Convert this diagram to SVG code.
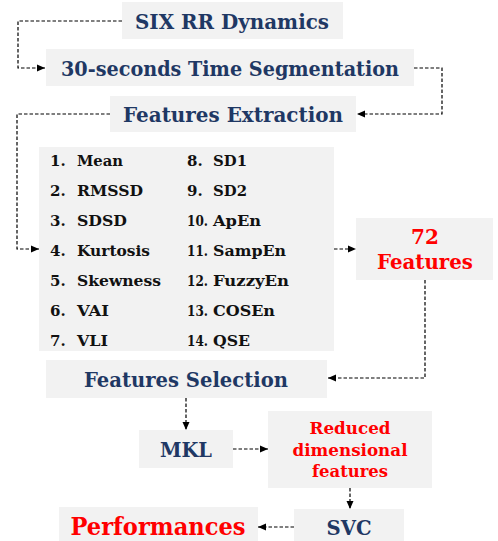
<svg xmlns="http://www.w3.org/2000/svg" width="498" height="541" viewBox="0 0 498 541">
<defs>
<marker id="ah" viewBox="0 0 8 8" refX="8" refY="4" markerWidth="8" markerHeight="8" markerUnits="userSpaceOnUse" orient="auto">
<path d="M0,0.5 L8,4 L0,7.5 Z" fill="#000"/>
</marker>
<style>
.box{fill:#f2f2f2;}
.t{font-family:"DejaVu Serif","Liberation Serif",serif;font-weight:bold;text-anchor:middle;}
.navy{fill:#1f3864;}
.red{fill:#ff0000;}
.li{font-family:"DejaVu Serif","Liberation Serif",serif;font-weight:bold;font-size:15px;fill:#111;}
.c{fill:none;stroke:#000;stroke-width:1.2;stroke-dasharray:3.5,2;}
.a{marker-end:url(#ah);}
</style>
</defs>
<g id="connectors">
<path class="c a" d="M122,21 H18 V68 H45"/>
<path class="c a" d="M414,68 H442 V114 H357"/>
<path class="c a" d="M110,114 H17 V249 H39"/>
<path class="c a" d="M334,249 H356"/>
<path class="c a" d="M425,280 V378 H328"/>
<path class="c a" d="M186,398 V430"/>
<path class="c a" d="M233,449 H268"/>
<path class="c a" d="M350,488 V509"/>
<path class="c a" d="M294,527 H258"/>
</g>
<g id="six">
<rect class="box" x="122" y="2" width="221" height="37"/>
<text class="t navy" x="232" y="29" font-size="20" textLength="194" lengthAdjust="spacingAndGlyphs">SIX RR Dynamics</text>
</g>
<g id="segmentation">
<rect class="box" x="46" y="49" width="368" height="37"/>
<text class="t navy" x="230" y="76" font-size="20" textLength="338" lengthAdjust="spacingAndGlyphs">30-seconds Time Segmentation</text>
</g>
<g id="extraction">
<rect class="box" x="110" y="96" width="246" height="36"/>
<text class="t navy" x="233" y="122" font-size="20" textLength="220" lengthAdjust="spacingAndGlyphs">Features Extraction</text>
</g>
<g id="list">
<rect class="box" x="39" y="147" width="295" height="204"/>
<text class="li" x="50" y="166">1.</text><text class="li" x="77" y="166" textLength="46" lengthAdjust="spacingAndGlyphs">Mean</text>
<text class="li" x="50" y="196">2.</text><text class="li" x="77" y="196" textLength="66" lengthAdjust="spacingAndGlyphs">RMSSD</text>
<text class="li" x="50" y="226">3.</text><text class="li" x="77" y="226" textLength="50" lengthAdjust="spacingAndGlyphs">SDSD</text>
<text class="li" x="50" y="256">4.</text><text class="li" x="77" y="256" textLength="73" lengthAdjust="spacingAndGlyphs">Kurtosis</text>
<text class="li" x="50" y="286">5.</text><text class="li" x="77" y="286" textLength="84" lengthAdjust="spacingAndGlyphs">Skewness</text>
<text class="li" x="50" y="316">6.</text><text class="li" x="77" y="316" textLength="32" lengthAdjust="spacingAndGlyphs">VAI</text>
<text class="li" x="50" y="346">7.</text><text class="li" x="77" y="346" textLength="31" lengthAdjust="spacingAndGlyphs">VLI</text>
<text class="li" x="187" y="166">8.</text><text class="li" x="213" y="166" textLength="34" lengthAdjust="spacingAndGlyphs">SD1</text>
<text class="li" x="187" y="196">9.</text><text class="li" x="213" y="196" textLength="34" lengthAdjust="spacingAndGlyphs">SD2</text>
<text class="li" x="187" y="226" textLength="21" lengthAdjust="spacingAndGlyphs">10.</text><text class="li" x="213" y="226" textLength="48" lengthAdjust="spacingAndGlyphs">ApEn</text>
<text class="li" x="187" y="256" textLength="21" lengthAdjust="spacingAndGlyphs">11.</text><text class="li" x="213" y="256" textLength="73" lengthAdjust="spacingAndGlyphs">SampEn</text>
<text class="li" x="187" y="286" textLength="21" lengthAdjust="spacingAndGlyphs">12.</text><text class="li" x="213" y="286" textLength="76" lengthAdjust="spacingAndGlyphs">FuzzyEn</text>
<text class="li" x="187" y="316" textLength="21" lengthAdjust="spacingAndGlyphs">13.</text><text class="li" x="213" y="316" textLength="62" lengthAdjust="spacingAndGlyphs">COSEn</text>
<text class="li" x="187" y="346" textLength="21" lengthAdjust="spacingAndGlyphs">14.</text><text class="li" x="213" y="346" textLength="37" lengthAdjust="spacingAndGlyphs">QSE</text>
</g>
<g id="features72">
<rect class="box" x="356" y="218" width="137" height="62"/>
<text class="t red" x="425" y="244" font-size="20">72</text>
<text class="t red" x="425" y="269" font-size="20" textLength="96" lengthAdjust="spacingAndGlyphs">Features</text>
</g>
<g id="selection">
<rect class="box" x="46" y="360" width="281" height="38"/>
<text class="t navy" x="186" y="387" font-size="20" textLength="204" lengthAdjust="spacingAndGlyphs">Features Selection</text>
</g>
<g id="mkl">
<rect class="box" x="139" y="430" width="94" height="38"/>
<text class="t navy" x="186" y="457" font-size="20" textLength="52" lengthAdjust="spacingAndGlyphs">MKL</text>
</g>
<g id="reduced">
<rect class="box" x="268" y="411" width="164" height="77"/>
<text class="t red" x="350" y="434" font-size="17" textLength="81" lengthAdjust="spacingAndGlyphs">Reduced</text>
<text class="t red" x="350" y="456" font-size="17" textLength="115" lengthAdjust="spacingAndGlyphs">dimensional</text>
<text class="t red" x="350" y="477" font-size="17" textLength="76" lengthAdjust="spacingAndGlyphs">features</text>
</g>
<g id="svc">
<rect class="box" x="294" y="509" width="110" height="34"/>
<text class="t navy" x="349" y="535" font-size="20" textLength="45" lengthAdjust="spacingAndGlyphs">SVC</text>
</g>
<g id="performances">
<rect class="box" x="59" y="507" width="199" height="36"/>
<text class="t red" x="158" y="535" font-size="24" textLength="175" lengthAdjust="spacingAndGlyphs">Performances</text>
</g>
</svg>
